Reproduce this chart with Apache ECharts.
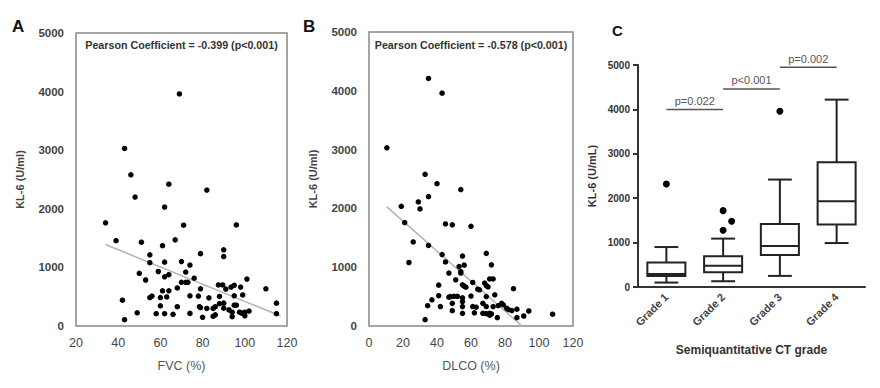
<!DOCTYPE html>
<html><head><meta charset="utf-8">
<script src="https://cdn.jsdelivr.net/npm/echarts/dist/echarts.min.js"></script>
<style>html,body{margin:0;padding:0;background:#fff}#c{width:880px;height:388px}</style>
</head><body><div id="c"></div>
<script>
// Panel A: FVC (%) vs KL-6
const fvcA = [69,43,46,64,82,48,62,34,71,96,39,51,67,61,90,90,79,55,55,62,70,74,50,59,64,62,72,53,70,72,73,76,61,64,68,56,55,60,63,74,42,60,68,49,58,62,66,74,43,101,110,87.5,89.5,91,93.5,95,98,79,78,83,88,95,99,78.5,79,82,85,86,88,90,90,95,96,92.5,94,97.5,98.5,100,102,100,80,85,86,94,115,115];
const kl6A = [3960,3030,2580,2420,2320,2200,2030,1760,1720,1725,1455,1430,1470,1370,1300,1185,1235,1215,1080,1090,1100,1040,900,930,875,840,920,785,745,745,745,815,600,600,650,510,485,485,495,515,440,345,330,225,210,210,200,215,108,800,635,700,700,630,665,695,665,635,510,480,505,515,530,330,315,300,300,330,380,390,305,355,355,275,235,235,220,235,255,175,148,165,190,160,390,210];
// Panel B: DLCO (%) vs KL-6
const dlcoB = [35,43,10.5,33,40,54,35,19,29,30,21,45,49,60,26,35,23.5,43,45,55,69,53,54,54,56,72,47,51,55,56,57,61,68,69,70,71,73,41,64,65,85,41,60,74,47,48,50,52,55,55,55,69,37,34.5,42,49,61,63,67,69,73,76,78,79,81,82,84,87,94,49,55,62,67,69,71,71,72,75.5,87,91,108,33];
const kl6B = [4210,3960,3030,2580,2420,2320,2200,2035,2110,1990,1760,1735,1720,1695,1430,1370,1080,1215,1090,1190,1235,1010,925,900,1035,1040,900,785,700,680,660,740,730,685,665,800,800,695,625,615,635,515,510,530,490,500,505,505,480,415,330,500,445,345,330,385,330,320,385,330,330,345,385,360,300,280,262,285,255,260,215,225,215,210,215,183,205,142,142,170,200,108];
// Regression lines (end points)
const regAx = [34, 117], regAy = [1390, 170];
const regBx = [10.5, 90], regBy = [2025, 0];
// Panel C: box plots by CT grade
const grades = ['Grade 1','Grade 2','Grade 3','Grade 4'];
const boxMin = [100, 130, 250, 990];
const boxQ1  = [250, 330, 720, 1410];
const boxMed = [290, 480, 925, 1930];
const boxQ3  = [550, 690, 1420, 2810];
const boxMax = [900, 1090, 2420, 4220];
const outlierGrade = [0, 1, 1.15, 1, 2];
const outlierVal   = [2320, 1720, 1480, 1280, 3960];
const sigFrom = [0, 1, 2], sigTo = [1, 2, 3], sigY = [4000, 4460, 4950];
const sigText = ['p=0.022', 'p<0.001', 'p=0.002'];
const pearsonA = 'Pearson Coefficient = -0.399 (p<0.001)';
const pearsonB = 'Pearson Coefficient = -0.578 (p<0.001)';

const F = 'Liberation Sans, Arial, sans-serif';
const zip = (a, b) => a.map((v, i) => [v, b[i]]);
const plain = v => String(v);

const chart = echarts.init(document.getElementById('c'), null, {renderer: 'svg'});

function scatterYAxis(grid) {
  return {gridIndex: grid, type: 'value', min: 0, max: 5000, interval: 1000,
    axisLine: {show: false}, axisTick: {show: false}, splitLine: {show: false},
    axisLabel: {color: '#444', fontWeight: 'bold', fontSize: 11.5, margin: 12, fontFamily: F, formatter: plain},
    name: 'KL-6 (U/ml)', nameLocation: 'middle', nameGap: 51,
    nameTextStyle: {color: '#444', fontWeight: 'bold', fontSize: 11, fontFamily: F}};
}
function scatterXAxis(grid, min, name) {
  return {gridIndex: grid, type: 'value', min: min, max: 120, interval: 20,
    axisLine: {show: false}, axisTick: {show: false}, splitLine: {show: false},
    axisLabel: {color: '#444', fontSize: 12.5, margin: 10, fontFamily: F},
    name: name, nameLocation: 'middle', nameGap: 33,
    nameTextStyle: {color: '#555', fontSize: 12.5, fontFamily: F}};
}

const option = {
  animation: false,
  backgroundColor: '#fff',
  title: [
    {text: 'A', left: 7, top: 13, textStyle: {fontSize: 17, fontWeight: 'bold', color: '#111', fontFamily: F}},
    {text: 'B', left: 298, top: 13, textStyle: {fontSize: 17, fontWeight: 'bold', color: '#111', fontFamily: F}},
    {text: 'C', left: 607, top: 18, textStyle: {fontSize: 15, fontWeight: 'bold', color: '#111', fontFamily: F}}
  ],
  graphic: [
    {type: 'text', x: 181.5, y: 45, style: {text: pearsonA, align: 'center', verticalAlign: 'middle', fill: '#333', font: 'bold 10.7px ' + F}},
    {type: 'text', x: 471, y: 45, style: {text: pearsonB, align: 'center', verticalAlign: 'middle', fill: '#333', font: 'bold 10.7px ' + F}}
  ],
  grid: [
    {left: 76, top: 33, width: 211, height: 293, show: true, borderColor: '#888', borderWidth: 1.5, backgroundColor: 'transparent'},
    {left: 369, top: 32, width: 204, height: 294, show: true, borderColor: '#888', borderWidth: 1.5, backgroundColor: 'transparent'},
    {left: 638, top: 65, width: 227, height: 222}
  ],
  xAxis: [
    scatterXAxis(0, 20, 'FVC (%)'),
    scatterXAxis(1, 0, 'DLCO (%)'),
    {gridIndex: 2, type: 'category', data: grades, boundaryGap: true,
      axisLine: {onZero: false, lineStyle: {color: '#333', width: 2}},
      axisTick: {alignWithLabel: true, length: 5, lineStyle: {color: '#333', width: 2}},
      axisLabel: {rotate: 45, color: '#444', fontWeight: 'bold', fontSize: 11, margin: 8, fontFamily: F},
      name: 'Semiquantitative CT grade', nameLocation: 'middle', nameGap: 57,
      nameTextStyle: {color: '#333', fontWeight: 'bold', fontSize: 12, fontFamily: F}},
    {gridIndex: 2, type: 'value', min: -0.5, max: 3.5, show: false}
  ],
  yAxis: [
    scatterYAxis(0),
    scatterYAxis(1),
    {gridIndex: 2, type: 'value', min: 0, max: 5000, interval: 1000,
      axisLine: {show: true, onZero: false, lineStyle: {color: '#333', width: 2}},
      axisTick: {show: true, length: 5, lineStyle: {color: '#333', width: 2}},
      splitLine: {show: false},
      axisLabel: {color: '#333', fontWeight: 'bold', fontSize: 10, margin: 8, fontFamily: F, formatter: plain},
      name: 'KL-6 (U/mL)', nameLocation: 'middle', nameGap: 41,
      nameTextStyle: {color: '#333', fontWeight: 'bold', fontSize: 11, fontFamily: F}}
  ],
  series: [
    {type: 'line', xAxisIndex: 0, yAxisIndex: 0, data: zip(regAx, regAy), symbol: 'none', z: 1,
      lineStyle: {color: '#b3b3b3', width: 1.5}},
    {type: 'scatter', xAxisIndex: 0, yAxisIndex: 0, data: zip(fvcA, kl6A), symbolSize: 5.5, z: 3,
      itemStyle: {color: '#000', opacity: 1}},
    {type: 'line', xAxisIndex: 1, yAxisIndex: 1, data: zip(regBx, regBy), symbol: 'none', z: 1,
      lineStyle: {color: '#b3b3b3', width: 1.5}},
    {type: 'scatter', xAxisIndex: 1, yAxisIndex: 1, data: zip(dlcoB, kl6B), symbolSize: 5.5, z: 3,
      itemStyle: {color: '#000', opacity: 1}},
    {type: 'custom', xAxisIndex: 2, yAxisIndex: 2,
      data: grades.map((g, i) => [i, boxMin[i], boxQ1[i], boxMed[i], boxQ3[i], boxMax[i]]),
      encode: {x: 0, y: [1, 2, 3, 4, 5]},
      renderItem: function (params, api) {
        const i = api.value(0);
        const band = api.size([1, 0])[0];
        const bw = band * 0.67, cw = band * 0.42;
        const pMin = api.coord([i, api.value(1)]);
        const pQ1 = api.coord([i, api.value(2)]);
        const pMed = api.coord([i, api.value(3)]);
        const pQ3 = api.coord([i, api.value(4)]);
        const pMax = api.coord([i, api.value(5)]);
        const x = pMed[0];
        const st = {stroke: '#222', lineWidth: 2, fill: null};
        return {type: 'group', children: [
          {type: 'line', shape: {x1: x, y1: pQ1[1], x2: x, y2: pMin[1]}, style: st},
          {type: 'line', shape: {x1: x, y1: pQ3[1], x2: x, y2: pMax[1]}, style: st},
          {type: 'line', shape: {x1: x - cw / 2, y1: pMin[1], x2: x + cw / 2, y2: pMin[1]}, style: st},
          {type: 'line', shape: {x1: x - cw / 2, y1: pMax[1], x2: x + cw / 2, y2: pMax[1]}, style: st},
          {type: 'rect', shape: {x: x - bw / 2, y: pQ3[1], width: bw, height: pQ1[1] - pQ3[1]},
            style: {stroke: '#222', lineWidth: 2, fill: '#fff'}},
          {type: 'line', shape: {x1: x - bw / 2, y1: pMed[1], x2: x + bw / 2, y2: pMed[1]}, style: st}
        ]};
      }},
    {type: 'scatter', xAxisIndex: 3, yAxisIndex: 2, data: zip(outlierGrade, outlierVal),
      symbolSize: 7, itemStyle: {color: '#000', opacity: 1}},
    {type: 'custom', xAxisIndex: 3, yAxisIndex: 2,
      data: sigFrom.map((f, i) => [f, sigTo[i], sigY[i]]),
      encode: {x: [0, 1], y: 2},
      renderItem: function (params, api) {
        const p1 = api.coord([api.value(0), api.value(2)]);
        const p2 = api.coord([api.value(1), api.value(2)]);
        return {type: 'group', children: [
          {type: 'line', shape: {x1: p1[0], y1: p1[1], x2: p2[0], y2: p2[1]},
            style: {stroke: '#555', lineWidth: 1.5}},
          {type: 'text', x: (p1[0] + p2[0]) / 2, y: p1[1] - 3,
            style: {text: sigText[params.dataIndex], align: 'center', verticalAlign: 'bottom',
              fill: '#555', font: '11px ' + F}}
        ]};
      }}
  ]
};
chart.setOption(option);
</script>
</body></html>
